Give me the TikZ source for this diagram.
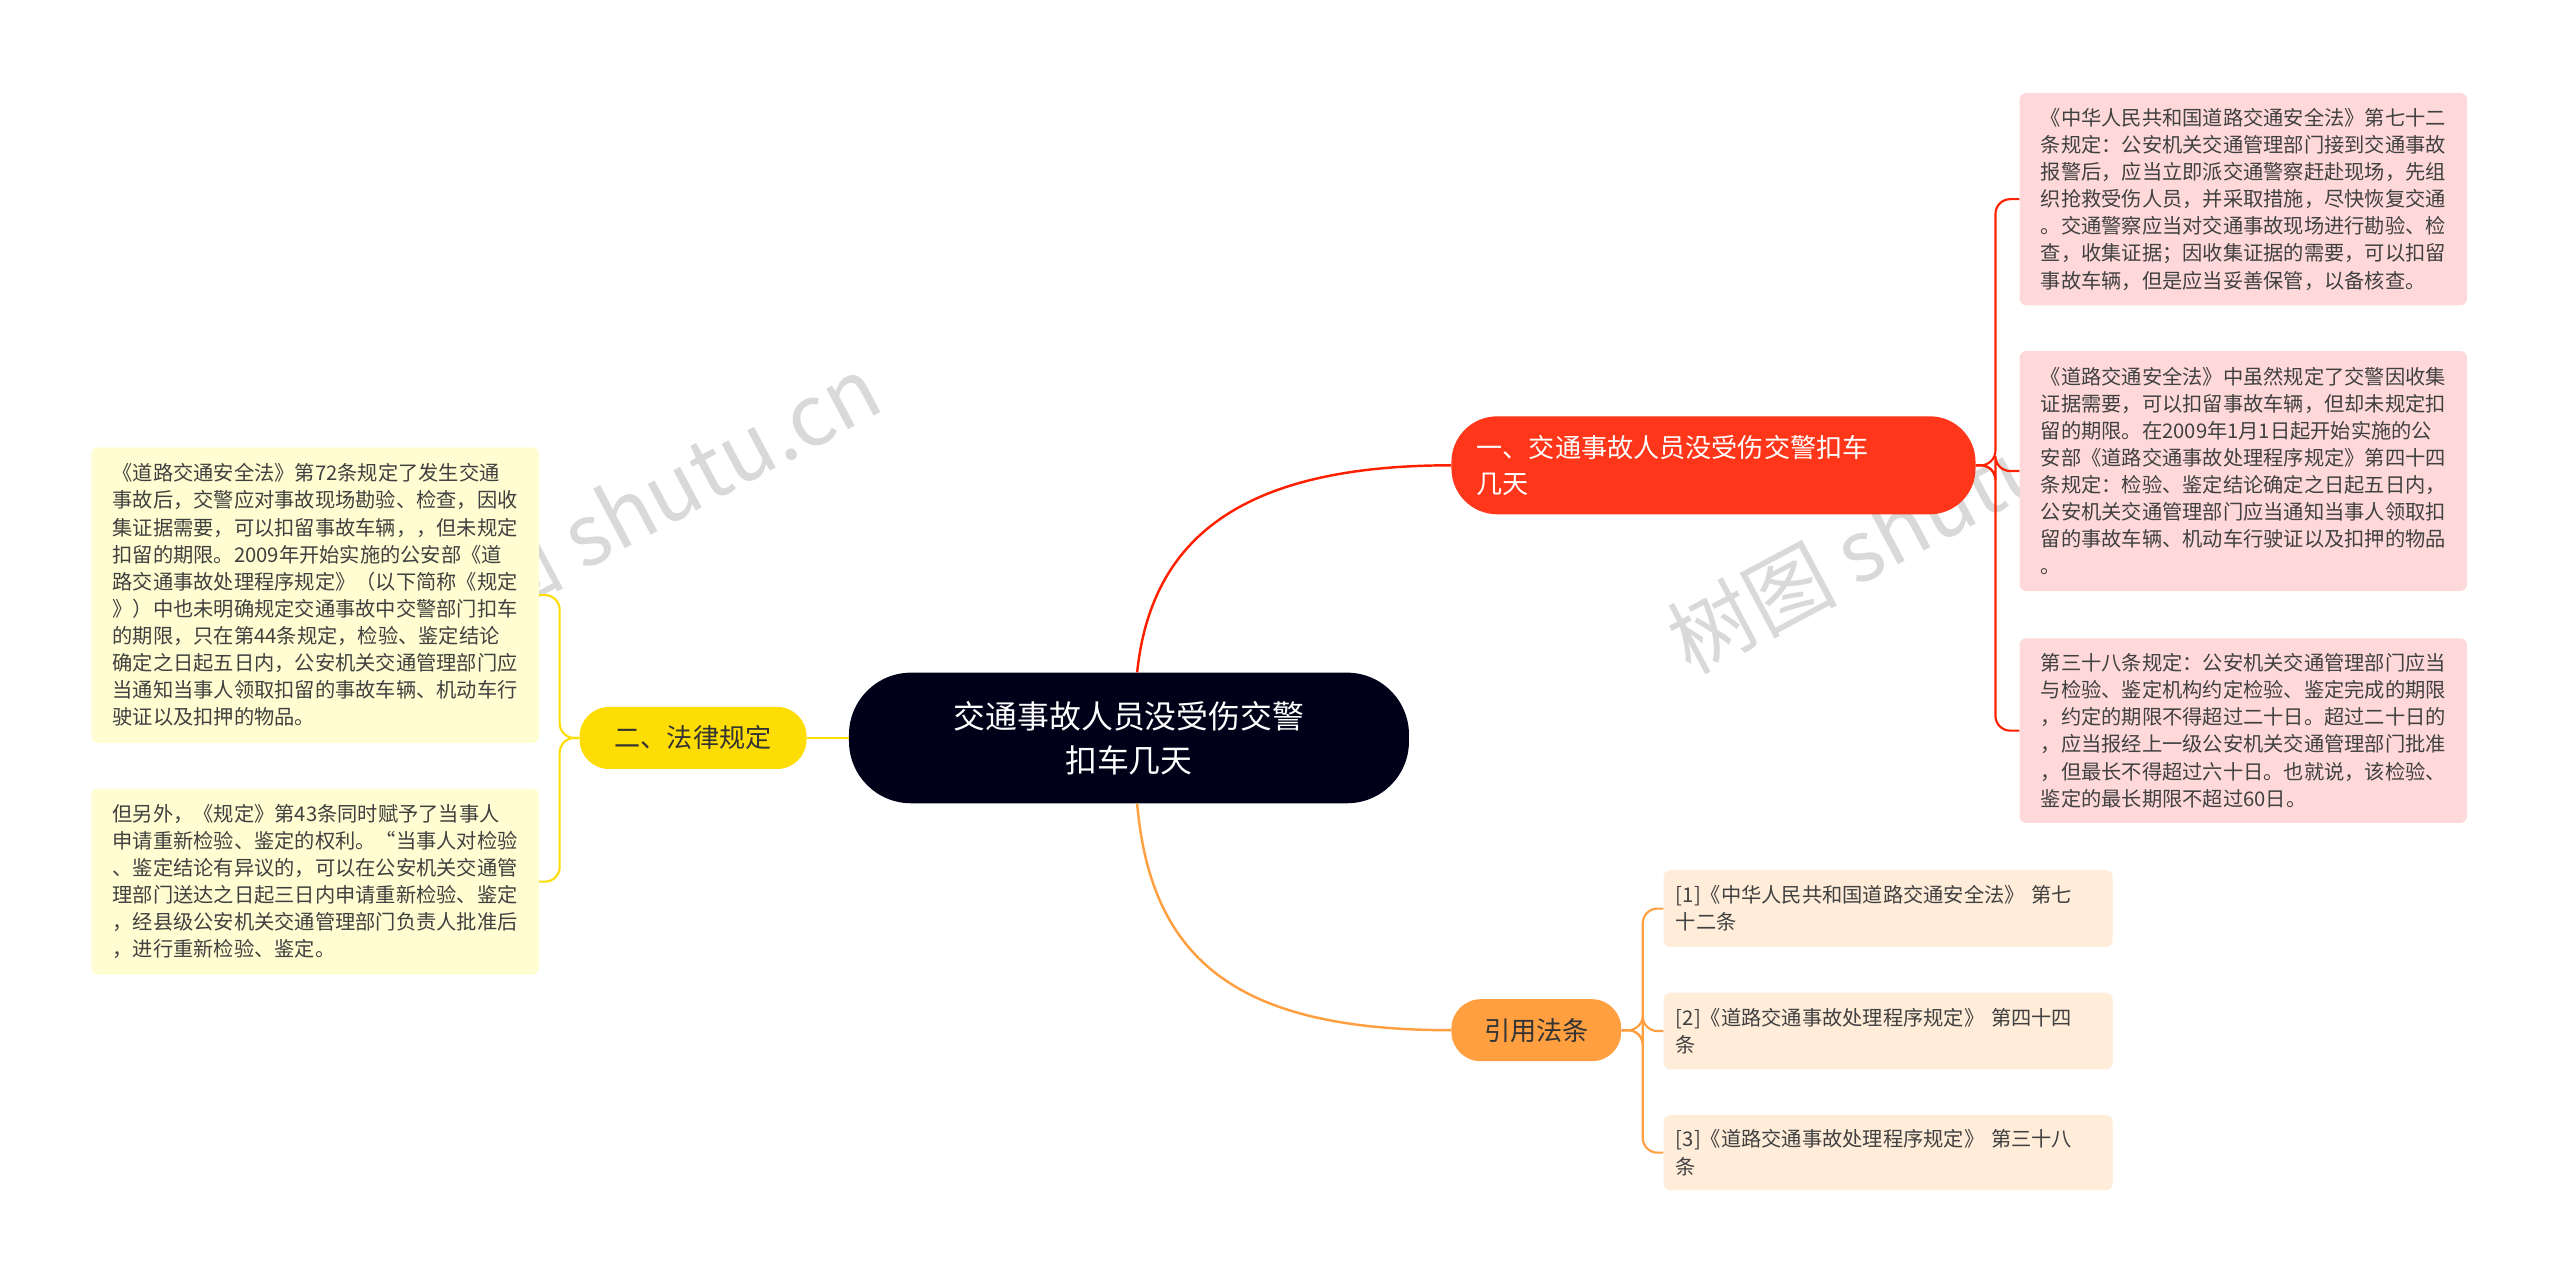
\documentclass[tikz,border=0pt]{standalone}
\usepackage{fontspec}
\setmainfont{Noto Sans CJK SC}
\begin{document}
\begin{tikzpicture}[x=1pt,y=-1pt,
  box/.style={rounded corners=4pt,inner sep=0pt,font=\fontsize{12.4}{16.6}\selectfont,text=black!75,align=left},
  pinkbox/.style={box,fill=red!15!white},
  yelbox/.style={box,fill=yellow!18!white},
  citebox/.style={box,fill=orange!15!white},
  lnk/.style={line width=1.3pt,rounded corners=9pt}]
\useasboundingbox (0,0) rectangle (1568,786);
\node[opacity=0.25,text=black!60,rotate=28,font=\fontsize{52}{60}\selectfont] at (390,310) {树图 shutu.cn};
\node[opacity=0.25,text=black!60,rotate=28,font=\fontsize{52}{60}\selectfont] at (1170,320) {树图 shutu.cn};

\node[fill=black!90!blue,rounded corners=38pt,minimum width=343pt,minimum height=80pt,text=white,align=center,font=\fontsize{19.5}{27}\selectfont] (c) at (691.5,452) {交通事故人员没受伤交警\\扣车几天};
\node[fill=red!75!orange!90!white,rounded corners=28pt,minimum width=321pt,minimum height=60pt,text=white,align=left,text width=290pt,font=\fontsize{16}{22}\selectfont] (r) at (1049.5,285) {一、交通事故人员没受伤交警扣车\\几天};
\node[fill=yellow!80!orange,rounded corners=18pt,minimum width=139pt,minimum height=38pt,text=black!80,font=\fontsize{16}{20}\selectfont] (y) at (424.5,452) {二、法律规定};
\node[fill=orange!75!white,rounded corners=18pt,minimum width=104pt,minimum height=38pt,text=black!80,font=\fontsize{16}{20}\selectfont] (o) at (941,631) {引用法条};

\node[pinkbox,minimum width=274pt,minimum height=130pt] (p1) at (1374,122) {《中华人民共和国道路交通安全法》第七十二\\条规定：公安机关交通管理部门接到交通事故\\报警后，应当立即派交通警察赶赴现场，先组\\织抢救受伤人员，并采取措施，尽快恢复交通\\。交通警察应当对交通事故现场进行勘验、检\\查，收集证据；因收集证据的需要，可以扣留\\事故车辆，但是应当妥善保管，以备核查。};
\node[pinkbox,minimum width=274pt,minimum height=147pt] (p2) at (1374,288.5) {《道路交通安全法》中虽然规定了交警因收集\\证据需要，可以扣留事故车辆，但却未规定扣\\留的期限。在2009年1月1日起开始实施的公\\安部《道路交通事故处理程序规定》第四十四\\条规定：检验、鉴定结论确定之日起五日内，\\公安机关交通管理部门应当通知当事人领取扣\\留的事故车辆、机动车行驶证以及扣押的物品\\。};
\node[pinkbox,minimum width=274pt,minimum height=113pt] (p3) at (1374,447.5) {第三十八条规定：公安机关交通管理部门应当\\与检验、鉴定机构约定检验、鉴定完成的期限\\，约定的期限不得超过二十日。超过二十日的\\，应当报经上一级公安机关交通管理部门批准\\，但最长不得超过六十日。也就说，该检验、\\鉴定的最长期限不超过60日。};

\node[yelbox,minimum width=274pt,minimum height=181pt] (l1) at (193,364.5) {《道路交通安全法》第72条规定了发生交通\\事故后，交警应对事故现场勘验、检查，因收\\集证据需要，可以扣留事故车辆，，但未规定\\扣留的期限。2009年开始实施的公安部《道\\路交通事故处理程序规定》（以下简称《规定\\》）中也未明确规定交通事故中交警部门扣车\\的期限，只在第44条规定，检验、鉴定结论\\确定之日起五日内，公安机关交通管理部门应\\当通知当事人领取扣留的事故车辆、机动车行\\驶证以及扣押的物品。};
\node[yelbox,minimum width=274pt,minimum height=114pt] (l2) at (193,540) {但另外，《规定》第43条同时赋予了当事人\\申请重新检验、鉴定的权利。“当事人对检验\\、鉴定结论有异议的，可以在公安机关交通管\\理部门送达之日起三日内申请重新检验、鉴定\\，经县级公安机关交通管理部门负责人批准后\\，进行重新检验、鉴定。};

\node[citebox,minimum width=275pt,minimum height=47pt,text width=260pt] (c1) at (1156.5,556.5) {[1]《中华人民共和国道路交通安全法》 第七\\十二条};
\node[citebox,minimum width=275pt,minimum height=47pt,text width=260pt] (c2) at (1156.5,631.5) {[2]《道路交通事故处理程序规定》 第四十四\\条};
\node[citebox,minimum width=275pt,minimum height=46pt,text width=260pt] (c3) at (1156.5,706) {[3]《道路交通事故处理程序规定》 第三十八\\条};

\draw[line width=1.5pt,red!75!orange] (c.north) ++(5,0) .. controls (705,330) and (760,285) .. (r.west);
\draw[line width=1.5pt,orange!75!white] (c.south) ++(5,0) .. controls (705,590) and (760,631) .. (o.west);
\draw[line width=1.5pt,yellow!80!orange] (c.west) -- (y.east);

\foreach \b in {p1,p2,p3} \draw[lnk,red!75!orange] (r.east) -- ++(12,0) |- (\b.west);
\foreach \b in {l1,l2} \draw[lnk,yellow!80!orange] (y.west) -- ++(-12,0) |- (\b.east);
\foreach \b in {c1,c2,c3} \draw[lnk,orange!75!white] (o.east) -- ++(13,0) |- (\b.west);
\end{tikzpicture}
\end{document}
